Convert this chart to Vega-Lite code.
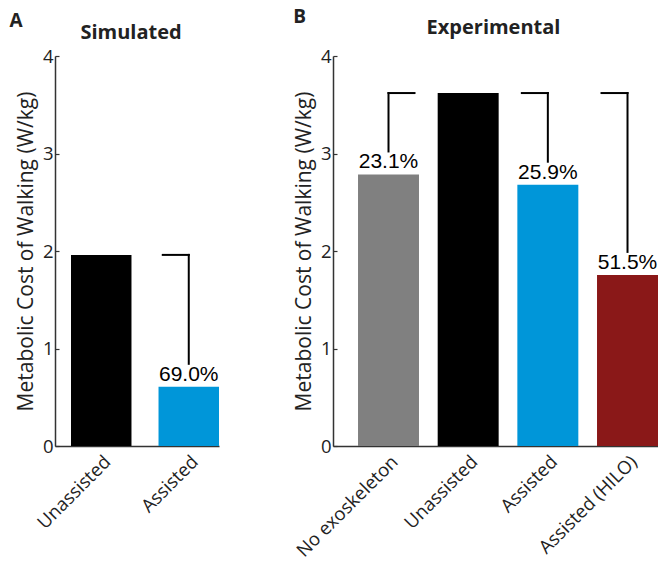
{
  "$schema": "https://vega.github.io/schema/vega-lite/v6.json",
  "padding": {"left": 9, "top": 8, "right": 0, "bottom": 0},
  "background": "white",
  "config": {
    "view": {"stroke": null},
    "font": "Open Sans",
    "axisY": {
      "domainColor": "#333333", "domainWidth": 1.5, "tickColor": "#333333", "tickWidth": 1.2, "tickSize": -4,
      "labelFontSize": 18.5, "labelColor": "#222222", "labelPadding": 6, "grid": false, "format": "d",
      "titleFontSize": 21, "titleFontWeight": "normal", "titleColor": "#222222", "titlePadding": 6
    },
    "axisX": {
      "domainColor": "#333333", "domainWidth": 1.5, "ticks": false, "labelAngle": -45,
      "labelFontSize": 18.5, "labelColor": "#222222", "labelPadding": 6, "title": null, "grid": false
    },
    "title": {"fontSize": 20, "fontWeight": "bold", "color": "#222222"}
  },
  "datasets": {
    "sim": [
      {"cond": "Unassisted", "value": 1.96},
      {"cond": "Assisted", "value": 0.607, "label": "69.0%", "ref": 1.96}
    ],
    "exp": [
      {"cond": "No exoskeleton", "value": 2.785, "label": "23.1%", "ref": 3.62},
      {"cond": "Unassisted", "value": 3.62},
      {"cond": "Assisted", "value": 2.68, "label": "25.9%", "ref": 3.62},
      {"cond": "Assisted (HILO)", "value": 1.755, "label": "51.5%", "ref": 3.62}
    ]
  },
  "spacing": 74,
  "hconcat": [
    {
      "title": {"text": "A", "anchor": "start", "frame": "bounds", "offset": -8, "dx": -6, "fontSize": 19},
      "vconcat": [
        {
          "width": 164, "height": 390,
          "title": {"text": "Simulated", "frame": "group", "anchor": "middle", "dx": -6, "offset": 4},
          "data": {"name": "sim"},
          "encoding": {
            "x": {"field": "cond", "type": "nominal", "sort": null,
                  "scale": {"paddingInner": 0.309, "paddingOuter": 0.0914, "align": 1}}
          },
          "layer": [
            {"mark": {"type": "bar"},
             "encoding": {
               "y": {"field": "value", "type": "quantitative", "scale": {"domain": [0, 4]},
                     "axis": {"values": [0, 1, 2, 3, 4], "title": "Metabolic Cost of Walking (W/kg)"}},
               "color": {"field": "cond", "type": "nominal", "legend": null,
                         "scale": {"domain": ["No exoskeleton", "Unassisted", "Assisted", "Assisted (HILO)"],
                                   "range": ["#808080", "#000000", "#0096D9", "#8A1818"]}}
             }},
            {"transform": [{"filter": "isValid(datum.label)"}],
             "mark": {"type": "text", "baseline": "bottom", "dy": -2, "fontSize": 21, "font": "Liberation Sans", "color": "#000000"},
             "encoding": {"y": {"field": "value", "type": "quantitative"}, "text": {"field": "label", "type": "nominal"}}},
            {"transform": [{"filter": "isValid(datum.ref)"}],
             "mark": {"type": "rule", "strokeWidth": 2, "color": "#000000", "strokeCap": "square", "y2Offset": -23},
             "encoding": {"y": {"field": "ref", "type": "quantitative"}, "y2": {"field": "value"}}},
            {"transform": [{"filter": "isValid(datum.ref)"}],
             "mark": {"type": "tick", "thickness": 2, "size": 28, "xOffset": -13, "color": "#000000", "opacity": 1},
             "encoding": {"y": {"field": "ref", "type": "quantitative"}}}
          ]
        }
      ]
    },
    {
      "title": {"text": "B", "anchor": "start", "frame": "bounds", "offset": -9, "dx": 0, "fontSize": 19},
      "vconcat": [
        {
          "width": 325, "height": 390,
          "title": {"text": "Experimental", "frame": "group", "anchor": "middle", "dx": -2, "offset": 9},
          "data": {"name": "exp"},
          "encoding": {
            "x": {"field": "cond", "type": "nominal", "sort": null,
                  "scale": {"paddingInner": 0.2346, "paddingOuter": 0.157, "align": 1}}
          },
          "layer": [
            {"mark": {"type": "bar"},
             "encoding": {
               "y": {"field": "value", "type": "quantitative", "scale": {"domain": [0, 4]},
                     "axis": {"values": [0, 1, 2, 3, 4], "title": "Metabolic Cost of Walking (W/kg)"}},
               "color": {"field": "cond", "type": "nominal", "legend": null,
                         "scale": {"domain": ["No exoskeleton", "Unassisted", "Assisted", "Assisted (HILO)"],
                                   "range": ["#808080", "#000000", "#0096D9", "#8A1818"]}}
             }},
            {"transform": [{"filter": "isValid(datum.label)"}],
             "mark": {"type": "text", "baseline": "bottom", "dy": -2, "fontSize": 21, "font": "Liberation Sans", "color": "#000000"},
             "encoding": {"y": {"field": "value", "type": "quantitative"}, "text": {"field": "label", "type": "nominal"}}},
            {"transform": [{"filter": "isValid(datum.ref)"}],
             "mark": {"type": "rule", "strokeWidth": 2, "color": "#000000", "strokeCap": "square", "y2Offset": -23},
             "encoding": {"y": {"field": "ref", "type": "quantitative"}, "y2": {"field": "value"}}},
            {"transform": [{"filter": "isValid(datum.ref) && datum.cond != 'No exoskeleton'"}],
             "mark": {"type": "tick", "thickness": 2, "size": 28, "xOffset": -13, "color": "#000000", "opacity": 1},
             "encoding": {"y": {"field": "ref", "type": "quantitative"}}},
            {"transform": [{"filter": "datum.cond == 'No exoskeleton'"}],
             "mark": {"type": "tick", "thickness": 2, "size": 28, "xOffset": 13, "color": "#000000", "opacity": 1},
             "encoding": {"y": {"field": "ref", "type": "quantitative"}}}
          ]
        }
      ]
    }
  ]
}
